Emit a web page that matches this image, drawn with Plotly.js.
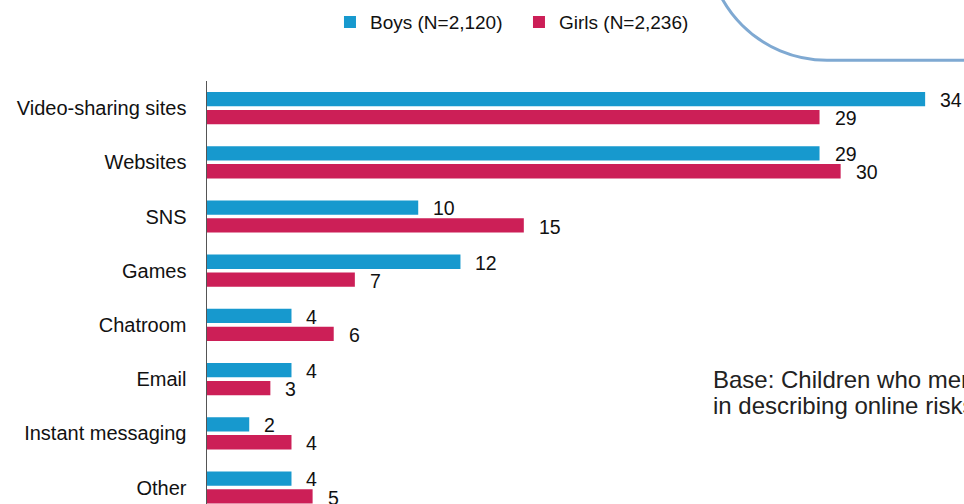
<!DOCTYPE html>
<html>
<head>
<meta charset="utf-8">
<script src="https://cdn.plot.ly/plotly-3.0.1.min.js"></script>
<style>html,body{margin:0;padding:0;background:#fff;}#chart{width:964px;height:504px;}</style>
</head>
<body>
<div id="chart"></div>
<script>
const categories = ["Video-sharing sites", "Websites", "SNS", "Games", "Chatroom", "Email", "Instant messaging", "Other"];
const boysName = "Boys (N=2,120)";
const girlsName = "Girls (N=2,236)";
const boysValues = [34, 29, 10, 12, 4, 4, 2, 4];
const girlsValues = [29, 30, 15, 7, 6, 3, 4, 5];
const baseNoteLines = ["Base: Children who mentioned", "in describing online risks"];

const BLUE = "#1799CE";
const RED = "#CC1F57";
const FONT = "Liberation Sans, Arial, sans-serif";

const traces = [
  {type: "bar", orientation: "h", name: boysName, y: categories, x: boysValues,
   marker: {color: BLUE}, hoverinfo: "skip"},
  {type: "bar", orientation: "h", name: girlsName, y: categories, x: girlsValues,
   marker: {color: RED}, hoverinfo: "skip"}
];

const OFF = 0.167;
const annotations = [];
categories.forEach((c, i) => {
  annotations.push({x: boysValues[i], y: i - OFF, xref: "x", yref: "y", text: String(boysValues[i]),
    showarrow: false, xanchor: "left", yanchor: "middle", xshift: 13, yshift: -1,
    font: {family: FONT, size: 19.5, color: "#111"}});
  annotations.push({x: girlsValues[i], y: i + OFF, xref: "x", yref: "y", text: String(girlsValues[i]),
    showarrow: false, xanchor: "left", yanchor: "middle", xshift: 13, yshift: -1,
    font: {family: FONT, size: 19.5, color: "#111"}});
});
const noteY = [0.2955, 0.234];
baseNoteLines.forEach((t, k) => {
  annotations.push({x: 0.6676, y: noteY[k], xref: "paper", yref: "paper", text: t,
    showarrow: false, xanchor: "left", yanchor: "middle", align: "left", borderpad: 0,
    font: {family: FONT, size: 24, color: "#222"}});
});

const layout = {
  width: 964, height: 504,
  margin: {l: 207, r: 0, t: 81, b: 0, pad: 0},
  paper_bgcolor: "#fff", plot_bgcolor: "#fff",
  font: {family: FONT, size: 19, color: "#111"},
  barmode: "group", bargap: 0.34, bargroupgap: 0.2,
  xaxis: {range: [0, 35.84], showgrid: false, zeroline: false, showline: false,
          showticklabels: false, ticks: "", fixedrange: true},
  yaxis: {type: "category", range: [7.304, -0.5], showgrid: false, zeroline: false,
          showline: true, linecolor: "#555", linewidth: 1.5, ticks: "",
          ticklabelstandoff: 15, tickfont: {family: FONT, size: 20, color: "#111"}, fixedrange: true},
  showlegend: true,
  legend: {orientation: "h", xref: "container", yref: "container", x: 0.3423, y: 0.956,
           xanchor: "left", yanchor: "middle", font: {family: FONT, size: 19, color: "#111"},
           itemwidth: 30, entrywidth: 144, entrywidthmode: "pixels",
           traceorder: "normal", bgcolor: "rgba(0,0,0,0)"},
  annotations: annotations,
  shapes: [{type: "path", xref: "paper", yref: "paper", layer: "above",
    path: "M 0.6605 1.3324 C 0.6605 1.1758 0.7314 1.0489 0.8190 1.0489 L 1.0079 1.0489",
    line: {color: "#7FA9D2", width: 3}, fillcolor: "rgba(0,0,0,0)"}]
};

Plotly.newPlot("chart", traces, layout, {staticPlot: true, displayModeBar: false});
</script>
</body>
</html>
